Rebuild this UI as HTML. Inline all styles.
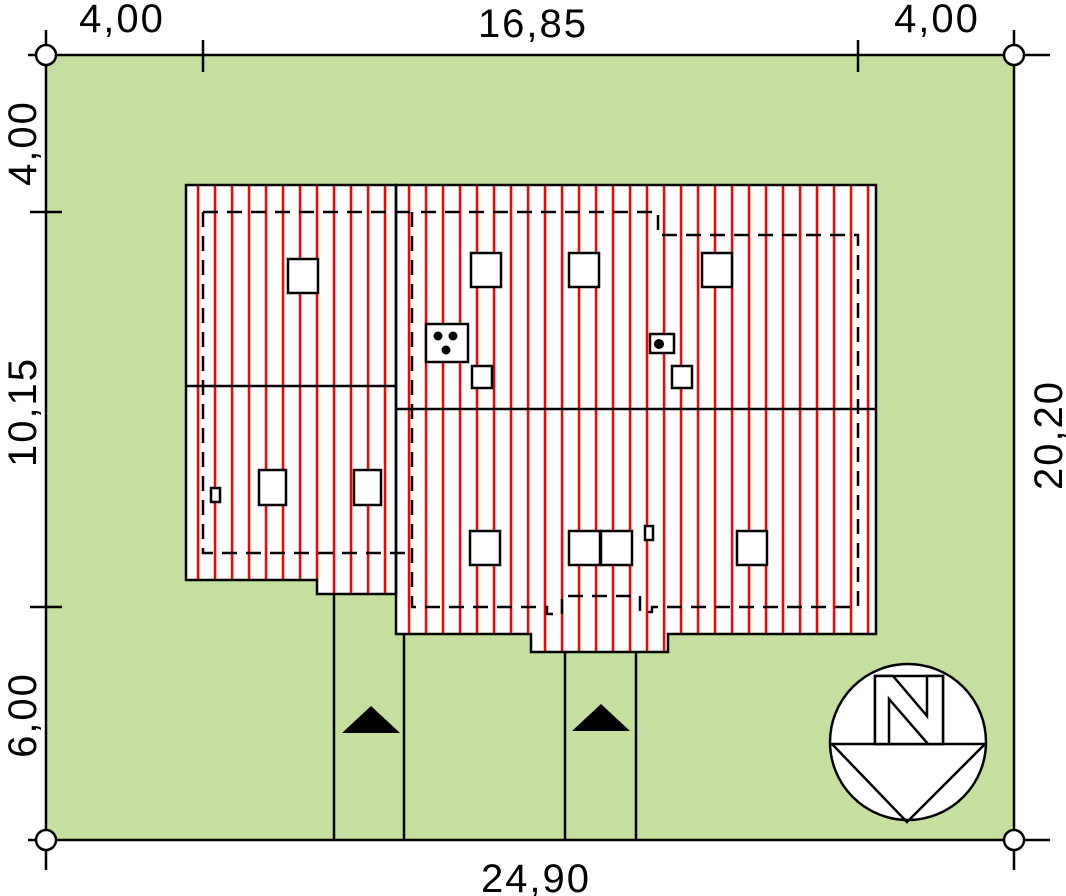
<!DOCTYPE html>
<html><head><style>body{margin:0;background:#fff}svg{display:block}</style></head><body>
<svg width="1066" height="896" viewBox="0 0 1066 896" xmlns="http://www.w3.org/2000/svg" font-family="Liberation Sans, sans-serif">
<rect x="46" y="55" width="968" height="785" fill="#c5df9e"/>
<g stroke="#000" stroke-width="2.5" fill="none">
<line x1="28" y1="55" x2="1050" y2="55"/>
<line x1="28" y1="840" x2="1050" y2="840"/>
<line x1="46" y1="30" x2="46" y2="870"/>
<line x1="1014" y1="30" x2="1014" y2="870"/>
<line x1="203" y1="40" x2="203" y2="72"/><line x1="858" y1="40" x2="858" y2="72"/>
<line x1="30" y1="212" x2="62" y2="212"/><line x1="30" y1="607" x2="62" y2="607"/>
</g>
<g fill="#fff" stroke="#000" stroke-width="2.5">
<circle cx="46" cy="55" r="10"/><circle cx="1014" cy="55" r="10"/><circle cx="46" cy="840" r="10"/><circle cx="1014" cy="840" r="10"/>
</g>
<polygon points="186,185 396,185 396,594 317,594 317,580 186,580" fill="#fff"/>
<polygon points="396,185 876,185 876,634 668,634 668,652 531,652 531,634 396,634" fill="#fff"/>
<g stroke="#f00" stroke-width="2.5">
<line x1="198" y1="186" x2="198" y2="580"/><line x1="215" y1="186" x2="215" y2="580"/><line x1="232" y1="186" x2="232" y2="580"/><line x1="249" y1="186" x2="249" y2="580"/><line x1="266" y1="186" x2="266" y2="580"/><line x1="283" y1="186" x2="283" y2="580"/><line x1="300" y1="186" x2="300" y2="580"/><line x1="317" y1="186" x2="317" y2="580"/>
<line x1="334" y1="186" x2="334" y2="594"/><line x1="351" y1="186" x2="351" y2="594"/><line x1="368" y1="186" x2="368" y2="594"/><line x1="385" y1="186" x2="385" y2="594"/>
<line x1="409" y1="186" x2="409" y2="634"/><line x1="426" y1="186" x2="426" y2="634"/><line x1="443" y1="186" x2="443" y2="634"/><line x1="460" y1="186" x2="460" y2="634"/><line x1="477" y1="186" x2="477" y2="634"/><line x1="494" y1="186" x2="494" y2="634"/><line x1="511" y1="186" x2="511" y2="634"/><line x1="528" y1="186" x2="528" y2="634"/>
<line x1="545" y1="186" x2="545" y2="652"/><line x1="562" y1="186" x2="562" y2="652"/><line x1="579" y1="186" x2="579" y2="652"/><line x1="596" y1="186" x2="596" y2="652"/><line x1="613" y1="186" x2="613" y2="652"/><line x1="630" y1="186" x2="630" y2="652"/><line x1="647" y1="186" x2="647" y2="652"/><line x1="664" y1="186" x2="664" y2="652"/>
<line x1="681" y1="186" x2="681" y2="634"/><line x1="698" y1="186" x2="698" y2="634"/><line x1="715" y1="186" x2="715" y2="634"/><line x1="732" y1="186" x2="732" y2="634"/><line x1="749" y1="186" x2="749" y2="634"/><line x1="766" y1="186" x2="766" y2="634"/><line x1="783" y1="186" x2="783" y2="634"/><line x1="800" y1="186" x2="800" y2="634"/><line x1="817" y1="186" x2="817" y2="634"/><line x1="834" y1="186" x2="834" y2="634"/><line x1="851" y1="186" x2="851" y2="634"/><line x1="868" y1="186" x2="868" y2="634"/>
</g>
<g stroke="#000" stroke-width="2.5" fill="none">
<polygon points="186,185 396,185 396,594 317,594 317,580 186,580"/>
<polygon points="396,185 876,185 876,634 668,634 668,652 531,652 531,634 396,634"/>
<line x1="186" y1="386" x2="396" y2="386"/><line x1="396" y1="409" x2="876" y2="409"/>
<g stroke-dasharray="15,9">
<polyline points="203,212 396,212 410,212"/>
<polyline points="203,212 203,553 412,553"/>
<polyline points="412,212 412,607 547,607 547,614 562,614 562,596 640,596 640,612 652,612 652,607 858,607 858,235 658,235 658,212 412,212"/>
</g>
<line x1="334" y1="594" x2="334" y2="840"/><line x1="404" y1="634" x2="404" y2="840"/>
<line x1="565" y1="652" x2="565" y2="840"/><line x1="636" y1="652" x2="636" y2="840"/>
</g>
<g fill="#fff" stroke="#000" stroke-width="2.5">
<rect x="288" y="259" width="30" height="34"/><rect x="471" y="253" width="30" height="34"/><rect x="569" y="253" width="30" height="34"/><rect x="702" y="253" width="30" height="34"/>
<rect x="259" y="470" width="27" height="35"/><rect x="354" y="470" width="27" height="35"/>
<rect x="470" y="531" width="30" height="34"/><rect x="569" y="531" width="31" height="34"/><rect x="601" y="531" width="31" height="34"/><rect x="737" y="531" width="30" height="34"/>
<rect x="472" y="366" width="20" height="22"/><rect x="672" y="366" width="20" height="22"/>
<rect x="426" y="324" width="42" height="38"/><rect x="650" y="334" width="24" height="19"/>
<rect x="211" y="488" width="9" height="14"/><rect x="645" y="526" width="8" height="14"/>
</g>
<g fill="#000">
<circle cx="438" cy="336" r="4.5"/><circle cx="453" cy="336" r="4.5"/><circle cx="446" cy="350" r="4.5"/><circle cx="659" cy="344" r="5"/>
<polygon points="342,733 371,706 400,733"/><polygon points="572,731 601,704 630,731"/>
</g>
<g stroke="#000" stroke-width="2.5" fill="#fff">
<circle cx="908" cy="742" r="78"/>
<line x1="830" y1="744" x2="986" y2="744"/>
<polyline fill="none" points="832,744 907,822 985,744"/>
<polygon points="875,676 943,676 943,744 875,744"/>
<polygon points="889,744 889,699 928,744 943,744 943,676 927,676 927,716 893,676 875,676 875,744"/>
</g>
<g font-size="40" fill="#000" text-anchor="middle" letter-spacing="2">
<text x="122" y="32">4,00</text><text x="533" y="37">16,85</text><text x="937" y="32">4,00</text>
<text x="536" y="892">24,90</text>
<text transform="translate(36,143) rotate(-90)">4,00</text>
<text transform="translate(36,412) rotate(-90)">10,15</text>
<text transform="translate(36,715) rotate(-90)">6,00</text>
<text transform="translate(1062,435) rotate(-90)">20,20</text>
</g>
</svg>
</body></html>
